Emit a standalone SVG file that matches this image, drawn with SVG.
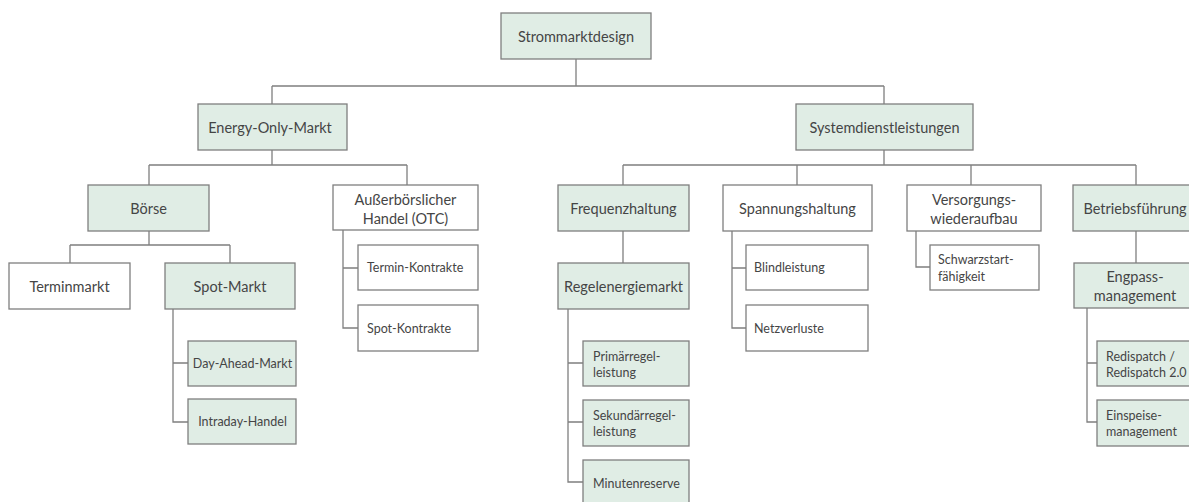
<svg xmlns="http://www.w3.org/2000/svg" width="1189" height="502" viewBox="0 0 1189 502">
  <style>
    .box { stroke: #7f7f7f; stroke-width: 1.3; }
    .g { fill: #e0ede5; }
    .w { fill: #ffffff; }
    .t { font-family: Lato, "Open Sans", sans-serif; fill: #454545; font-size: 14.5px; text-anchor: middle; dominant-baseline: central; }
    .s { font-family: Lato, "Open Sans", sans-serif; fill: #454545; font-size: 12.5px; dominant-baseline: central; }
    .c { text-anchor: middle; }
    .lines { fill: none; stroke: #7f7f7f; stroke-width: 1.3; }
  </style>
  <rect width="1189" height="502" fill="#ffffff"/>

  <g id="connectors" class="lines">
    <path d="M576 59 V86 M272 86 H884 M272 86 V104 M884 86 V104"/>
    <path d="M272 150 V165 M149 165 H407 M149 165 V185 M407 165 V185"/>
    <path d="M149 231 V245 M70 245 H230 M70 245 V263 M230 245 V263"/>
    <path d="M173 309 V422 H188 M173 363 H188"/>
    <path d="M343 230 V328 H358 M343 268 H358"/>
    <path d="M884 150 V165 M623 165 H1136 M623 165 V185 M797 165 V185 M971 165 V185 M1136 165 V185"/>
    <path d="M623 231 V263"/>
    <path d="M568 309 V482 H583 M568 363 H583 M568 422 H583"/>
    <path d="M732 231 V328 H746 M732 268 H746"/>
    <path d="M916 231 V267 H930"/>
    <path d="M1136 231 V263"/>
    <path d="M1087 308 V422 H1097 M1087 363 H1097"/>
  </g>

  <g id="strommarktdesign">
    <rect class="box g" x="501" y="13" width="150" height="46"/>
    <text class="t" x="576" y="36">Strommarktdesign</text>
  </g>

  <g id="energy-only-markt">
    <rect class="box g" x="198" y="104" width="149" height="46"/>
    <text class="t" x="270" y="127">Energy-Only-Markt</text>
  </g>

  <g id="systemdienstleistungen">
    <rect class="box g" x="796" y="104" width="177" height="46"/>
    <text class="t" x="884.5" y="127">Systemdienstleistungen</text>
  </g>

  <g id="boerse">
    <rect class="box g" x="88" y="185" width="121" height="46"/>
    <text class="t" x="148.5" y="208">Börse</text>
  </g>

  <g id="otc">
    <rect class="box w" x="333" y="185" width="145" height="45"/>
    <text class="t" x="405.5" y="199">Außerbörslicher</text>
    <text class="t" x="405.5" y="218">Handel (OTC)</text>
  </g>

  <g id="terminmarkt">
    <rect class="box w" x="9" y="263" width="121" height="46"/>
    <text class="t" x="69.5" y="286">Terminmarkt</text>
  </g>

  <g id="spot-markt">
    <rect class="box g" x="165" y="263" width="130" height="46"/>
    <text class="t" x="230" y="286">Spot-Markt</text>
  </g>

  <g id="day-ahead-markt">
    <rect class="box g" x="188" y="341" width="108" height="45"/>
    <text class="s c" x="242.5" y="363.5">Day-Ahead-Markt</text>
  </g>

  <g id="intraday-handel">
    <rect class="box g" x="188" y="399" width="108" height="45"/>
    <text class="s c" x="242.5" y="421.5">Intraday-Handel</text>
  </g>

  <g id="termin-kontrakte">
    <rect class="box w" x="358" y="245" width="120" height="45"/>
    <text class="s" x="367" y="267.5">Termin-Kontrakte</text>
  </g>

  <g id="spot-kontrakte">
    <rect class="box w" x="358" y="305" width="120" height="46"/>
    <text class="s" x="367" y="328">Spot-Kontrakte</text>
  </g>

  <g id="frequenzhaltung">
    <rect class="box g" x="558" y="185" width="131" height="46"/>
    <text class="t" x="623.5" y="208">Frequenzhaltung</text>
  </g>

  <g id="regelenergiemarkt">
    <rect class="box g" x="558" y="263" width="131" height="46"/>
    <text class="t" x="623.5" y="286">Regelenergiemarkt</text>
  </g>

  <g id="primaerregelleistung">
    <rect class="box g" x="583" y="341" width="106" height="45"/>
    <text class="s" x="593" y="356">Primärregel-</text>
    <text class="s" x="593" y="372">leistung</text>
  </g>

  <g id="sekundaerregelleistung">
    <rect class="box g" x="583" y="400" width="106" height="46"/>
    <text class="s" x="593" y="415">Sekundärregel-</text>
    <text class="s" x="593" y="431">leistung</text>
  </g>

  <g id="minutenreserve">
    <rect class="box g" x="583" y="460" width="106" height="46"/>
    <text class="s" x="593" y="483">Minutenreserve</text>
  </g>

  <g id="spannungshaltung">
    <rect class="box w" x="723" y="185" width="149" height="46"/>
    <text class="t" x="797.5" y="208">Spannungshaltung</text>
  </g>

  <g id="blindleistung">
    <rect class="box w" x="746" y="245" width="122" height="45"/>
    <text class="s" x="754" y="267.5">Blindleistung</text>
  </g>

  <g id="netzverluste">
    <rect class="box w" x="746" y="305" width="122" height="46"/>
    <text class="s" x="754" y="328">Netzverluste</text>
  </g>

  <g id="versorgungswiederaufbau">
    <rect class="box w" x="907" y="185" width="134" height="46"/>
    <text class="t" x="974" y="199">Versorgungs-</text>
    <text class="t" x="974" y="218">wiederaufbau</text>
  </g>

  <g id="schwarzstartfaehigkeit">
    <rect class="box w" x="930" y="245" width="109" height="45"/>
    <text class="s" x="938" y="259">Schwarzstart-</text>
    <text class="s" x="938" y="276">fähigkeit</text>
  </g>

  <g id="betriebsfuehrung">
    <rect class="box g" x="1073" y="185" width="126" height="46"/>
    <text class="t" x="1135" y="208">Betriebsführung</text>
  </g>

  <g id="engpassmanagement">
    <rect class="box g" x="1074" y="263" width="125" height="45"/>
    <text class="t" x="1135" y="276">Engpass-</text>
    <text class="t" x="1135" y="295">management</text>
  </g>

  <g id="redispatch">
    <rect class="box g" x="1097" y="341" width="102" height="45"/>
    <text class="s" x="1106" y="356">Redispatch /</text>
    <text class="s" x="1106" y="372">Redispatch 2.0</text>
  </g>

  <g id="einspeisemanagement">
    <rect class="box g" x="1097" y="400" width="102" height="46"/>
    <text class="s" x="1106" y="415">Einspeise-</text>
    <text class="s" x="1106" y="431">management</text>
  </g>
</svg>
